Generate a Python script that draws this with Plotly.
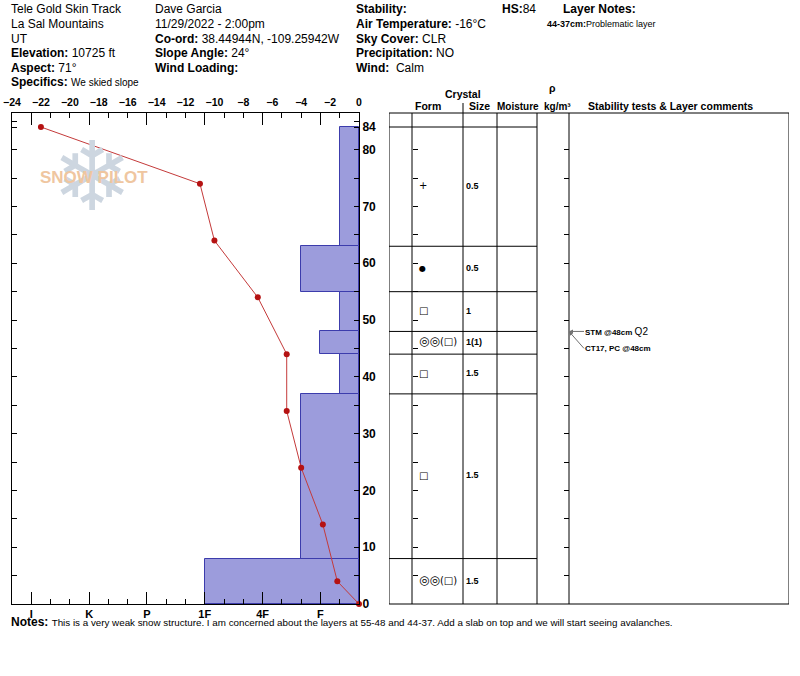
import plotly.graph_objects as go

W, H = 800, 676
FONT = "Liberation Sans, Arial, Helvetica, sans-serif"

# ---------------- data ----------------
site_info = ["Tele Gold Skin Track", "La Sal Mountains", "UT"]
elevation = "10725 ft"
aspect = "71°"
specifics = "We skied slope"
observer = "Dave Garcia"
date_time = "11/29/2022 - 2:00pm"
coord = "38.44944N, -109.25942W"
slope_angle = "24°"
wind_loading = ""
stability = ""
air_temp = "-16°C"
sky_cover = "CLR"
precipitation = "NO"
wind = "Calm"
hs = 84
layer_note_range = "44-37cm"
layer_note_text = "Problematic layer"
notes = ("This is a very weak snow structure. I am concerned about the layers at 55-48 "
         "and 44-37. Add a slab on top and we will start seeing avalanches.")

layer_top = [84, 63, 55, 48, 44, 37, 8]
layer_bottom = [63, 55, 48, 44, 37, 8, 0]
layer_hardness = ["F-", "F+", "F-", "F", "F-", "F+", "1F"]
layer_form = ["+", "<span style='font-size:8px'>\u25cf</span>", "\u25a1",
              "<span style='font-size:12px'>\u25ce\u25ce</span>(\u25a1)", "\u25a1", "\u25a1",
              "<span style='font-size:12px'>\u25ce\u25ce</span>(\u25a1)"]
layer_size = ["0.5", "0.5", "1", "1(1)", "1.5", "1.5", "1.5"]

temp_height = [84, 74, 64, 54, 44, 34, 24, 14, 4, 0]
temp_value = [-22, -11, -10, -7, -5, -5, -4, -2.5, -1.5, 0]

temp_ticks = list(range(-24, 1, 2))
height_labels = [0, 10, 20, 30, 40, 50, 60, 70, 80, 84]
hardness_scale = ["I+", "I", "I-", "K+", "K", "K-", "P+", "P", "P-",
                  "1F+", "1F", "1F-", "4F+", "4F", "4F-", "F+", "F", "F-"]
hardness_labels = ["I", "K", "P", "1F", "4F", "F"]

stab_tests = ["<b>STM @48cm</b> <span style='font-size:10px'>Q2</span>", "<b>CT17, PC @48cm</b>"]
stab_depth = [48, 48]

# ---------------- helpers ----------------
hard_index = {h: len(hardness_scale) - i for i, h in enumerate(hardness_scale)}
def px(x):
    return x / W
def py(y):
    return 1 - y / H

Y_TOP, Y_BOT = 113, 604
PX_PER_CM = (604 - 127) / 84.0
Y_MAX = (Y_BOT - Y_TOP) / PX_PER_CM
ydom = [py(Y_BOT), py(Y_TOP)]

fig = go.Figure()

# hardness bars
fig.add_trace(go.Bar(
    x=[hard_index[h] for h in layer_hardness],
    y=[(t + b) / 2 for t, b in zip(layer_top, layer_bottom)],
    width=[t - b for t, b in zip(layer_top, layer_bottom)],
    base=0, orientation="h", xaxis="x", yaxis="y",
    marker=dict(color="#9c9cdc", line=dict(color="#3c3cac", width=1)),
    showlegend=False, hoverinfo="skip"))

# temperature profile
fig.add_trace(go.Scatter(
    x=temp_value, y=temp_height, mode="lines+markers", xaxis="x2", yaxis="y",
    line=dict(color="#c43a3a", width=1), marker=dict(color="#b51212", size=6),
    cliponaxis=False, showlegend=False, hoverinfo="skip"))

mids = [(t + b) / 2 for t, b in zip(layer_top, layer_bottom)]
# table: form and size
fig.add_trace(go.Scatter(
    x=[30] * len(mids), y=mids, mode="text", text=layer_form, textposition="middle right",
    textfont=dict(family="DejaVu Sans", size=10, color="black"),
    xaxis="x3", yaxis="y2", showlegend=False, hoverinfo="skip", cliponaxis=False))
fig.add_trace(go.Scatter(
    x=[77] * len(mids), y=mids, mode="text", text=["<b>%s</b>" % s for s in layer_size],
    textposition="middle right", textfont=dict(family=FONT, size=9, color="black"),
    xaxis="x3", yaxis="y3", showlegend=False, hoverinfo="skip", cliponaxis=False))

# table lines
shapes = []
col_x = [0, 23, 74, 108, 148, 180, 400]
for cx in col_x:
    shapes.append(dict(type="line", xref="x3", yref="y2 domain", x0=cx, x1=cx, y0=0, y1=1,
                       line=dict(color="black", width=1)))
for yy in [0, 1]:
    shapes.append(dict(type="line", xref="x3", yref="y2 domain", x0=0, x1=400, y0=yy, y1=yy,
                       line=dict(color="black", width=1)))
for t in layer_top:
    shapes.append(dict(type="line", xref="x3", yref="y2", x0=0, x1=148, y0=t, y1=t,
                       line=dict(color="black", width=1)))
shapes.append(dict(type="line", xref="paper", yref="paper", x0=px(463), x1=px(463),
                   y0=py(103), y1=py(113), line=dict(color="black", width=1)))

ann = []
def txt(x, y, s, size=12, xanchor="left", color="black", family=FONT):
    ann.append(dict(x=px(x), y=py(y), xref="paper", yref="paper", text=s, showarrow=False,
                    xanchor=xanchor, yanchor="middle", borderpad=0,
                    font=dict(family=family, size=size, color=color)))

# logo (drawn first, behind)
txt(92, 177, "\u2744", size=96, xanchor="center", color="#cdd6e0", family="DejaVu Sans")
txt(94, 177, "<b>SNOW PILOT</b>", size=17, xanchor="center", color="#efc6a0")

# header
txt(10, 9, site_info[0]); txt(10, 24, site_info[1]); txt(10, 39, site_info[2])
txt(10, 53, "<b>Elevation:</b> " + elevation)
txt(10, 68, "<b>Aspect:</b> " + aspect)
txt(10, 82, "<b>Specifics:</b> <span style='font-size:10px'>" + specifics + "</span>")
txt(154, 9, observer); txt(154, 24, date_time)
txt(154, 39, "<b>Co-ord:</b> " + coord)
txt(154, 53, "<b>Slope Angle:</b> " + slope_angle)
txt(154, 68, "<b>Wind Loading:</b> " + wind_loading)
txt(355, 9, "<b>Stability:</b> " + stability)
txt(355, 24, "<b>Air Temperature:</b> " + air_temp)
txt(355, 39, "<b>Sky Cover:</b> " + sky_cover)
txt(355, 53, "<b>Precipitation:</b> " + precipitation)
txt(355, 68, "<b>Wind:</b>  " + wind)
txt(501, 9, "<b>HS:</b>%d" % hs)
txt(562, 9, "<b>Layer Notes:</b>")
txt(546, 24, "<b>" + layer_note_range + ":</b>" + layer_note_text, size=9)

# table header
txt(463, 94, "<b>Crystal</b>", size=10.5, xanchor="center")
txt(428, 106, "<b>Form</b>", size=10.5, xanchor="center")
txt(479, 106, "<b>Size</b>", size=10.5, xanchor="center")
txt(518, 106, "<b>Moisture</b>", size=10, xanchor="center")
txt(552, 88, "<b>\u03c1</b>", size=10.5, xanchor="center")
txt(557, 106, "<b>kg/m\u00b3</b>", size=10, xanchor="center")
txt(670, 106, "<b>Stability tests & Layer comments</b>", size=10.5, xanchor="center")

# notes
txt(10, 622, "<b>Notes:</b> <span style='font-size:9.8px'>" + notes + "</span>")

# stability tests
for i, (s, d) in enumerate(zip(stab_tests, stab_depth)):
    ann.append(dict(x=180, y=d, xref="x3", yref="y2", text=s, showarrow=True,
                    ax=15, ay=0 if i == 0 else 17, xanchor="left", yanchor="middle",
                    arrowhead=2, arrowsize=0.8, arrowwidth=1, arrowcolor="#707070",
                    borderpad=0, font=dict(family=FONT, size=8, color="black")))

fig.update_layout(
    width=W, height=H, margin=dict(l=0, r=0, t=0, b=0, autoexpand=False),
    paper_bgcolor="white", plot_bgcolor="white",
    font=dict(family=FONT, color="black"),
    bargap=0,
    xaxis=dict(domain=[px(12), px(359)], range=[len(hardness_scale), 0], anchor="y", side="bottom",
               automargin=False,
               tickmode="array", tickvals=[hard_index[h] for h in hardness_labels], ticktext=hardness_labels,
               ticks="inside", ticklen=12, tickcolor="black", tickwidth=1,
               minor=dict(tick0=0, dtick=1, ticks="inside", ticklen=5, tickcolor="black", tickwidth=1),
               showline=True, linecolor="black", linewidth=1, mirror="ticks",
               showgrid=False, zeroline=False, tickfont=dict(size=11, weight="bold")),
    xaxis2=dict(overlaying="x", anchor="y", side="top", range=[-24, 0], automargin=False,
                tickmode="array", tickvals=temp_ticks, ticks="", showline=False, ticklabelstandoff=4,
                showgrid=False, zeroline=False, tickfont=dict(size=10.5, weight="bold")),
    yaxis=dict(domain=ydom, range=[0, Y_MAX], anchor="x", side="right", automargin=False,
               tickmode="array", tickvals=height_labels, ticks="inside", ticklen=5, tickcolor="black",
               minor=dict(tick0=0, dtick=5, ticks="inside", ticklen=5, tickcolor="black"),
               showline=True, linecolor="black", linewidth=1, mirror="ticks",
               showgrid=False, zeroline=False, tickfont=dict(size=12, weight="bold")),
    xaxis3=dict(domain=[px(389), px(789)], range=[0, 400], anchor="y2", visible=False, automargin=False),
    yaxis2=dict(domain=ydom, range=[0, Y_MAX], anchor="free", position=px(412), side="right",
                automargin=False,
                tickmode="array", tickvals=list(range(5, 81, 5)), ticks="outside", ticklen=5,
                tickcolor="black", showticklabels=False, showline=False, showgrid=False, zeroline=False),
    yaxis3=dict(overlaying="y2", range=[0, Y_MAX], anchor="free", position=px(569), side="left",
                automargin=False,
                tickmode="array", tickvals=list(range(5, 81, 5)), ticks="outside", ticklen=5,
                tickcolor="black", showticklabels=False, showline=False, showgrid=False, zeroline=False),
    shapes=shapes, annotations=ann,
)

fig.write_html("out.html", config={"displayModeBar": False},
               post_script="document.body.style.margin='0px';document.body.style.padding='0px';")
